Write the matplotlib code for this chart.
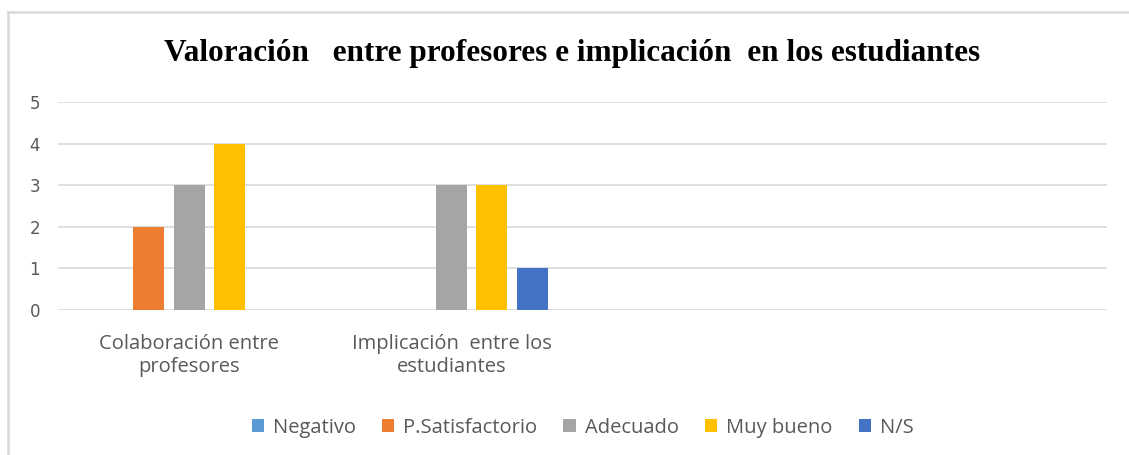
import numpy as np
import matplotlib.pyplot as plt
from matplotlib.lines import Line2D

# data
categories = ["Colaboración entre\nprofesores", "Implicación  entre los\nestudiantes", "", ""]
series = ["Negativo", "P.Satisfactorio", "Adecuado", "Muy bueno", "N/S"]
negativo = [0, 0, 0, 0]
p_satisfactorio = [2, 0, 0, 0]
adecuado = [3, 3, 0, 0]
muy_bueno = [4, 3, 0, 0]
ns = [0, 1, 0, 0]
values = [negativo, p_satisfactorio, adecuado, muy_bueno, ns]
colors = ["#5B9BD5", "#ED7D31", "#A5A5A5", "#FFC000", "#4472C4"]

fig = plt.figure(figsize=(11.29, 4.55), dpi=100)
ax = fig.add_axes([0.0515, 0.3187, 0.929, 0.4571])

x = np.arange(len(categories))
width = 0.118
step = 0.154
for i, (name, vals, c) in enumerate(zip(series, values, colors)):
    ax.bar(x + (i - 2) * step, vals, width, color=c, label=name, zorder=3)

ax.set_xlim(-0.5, len(categories) - 0.5)
ax.set_ylim(0, 5)
ax.set_yticks(range(6))
ax.grid(axis="y", color="#D9D9D9", linewidth=1.2, zorder=0)
for s in ax.spines.values():
    s.set_visible(False)
ax.tick_params(length=0)
ax.tick_params(axis="y", labelsize=12, labelcolor="#595959", pad=13)
ax.set_xticks(x)
ax.set_xticklabels(categories, fontsize=14.5, color="#595959", family="Open Sans",
                   linespacing=1.25)
ax.tick_params(axis="x", pad=17)

fig.suptitle("Valoración   entre profesores e implicación  en los estudiantes",
             x=0.507, y=0.915, fontsize=22.5, fontweight="bold",
             family="Liberation Serif")

leg = ax.legend(loc="upper center", bbox_to_anchor=(0.5, -0.43), ncol=5,
                frameon=False, handlelength=0.6, handleheight=0.6,
                handletextpad=0.45, columnspacing=1.3,
                prop={"family": "Open Sans", "size": 14.5})
for t in leg.get_texts():
    t.set_color("#595959")

# chart frame (left and top edges visible)
fig.add_artist(Line2D([0.0075, 0.0075], [0, 0.974], color="#D9D9D9", lw=1.8,
                      transform=fig.transFigure))
fig.add_artist(Line2D([0.0075, 1.0], [0.974, 0.974], color="#D9D9D9", lw=1.8,
                      transform=fig.transFigure))

fig.savefig("out.png", dpi=100, facecolor="white")
